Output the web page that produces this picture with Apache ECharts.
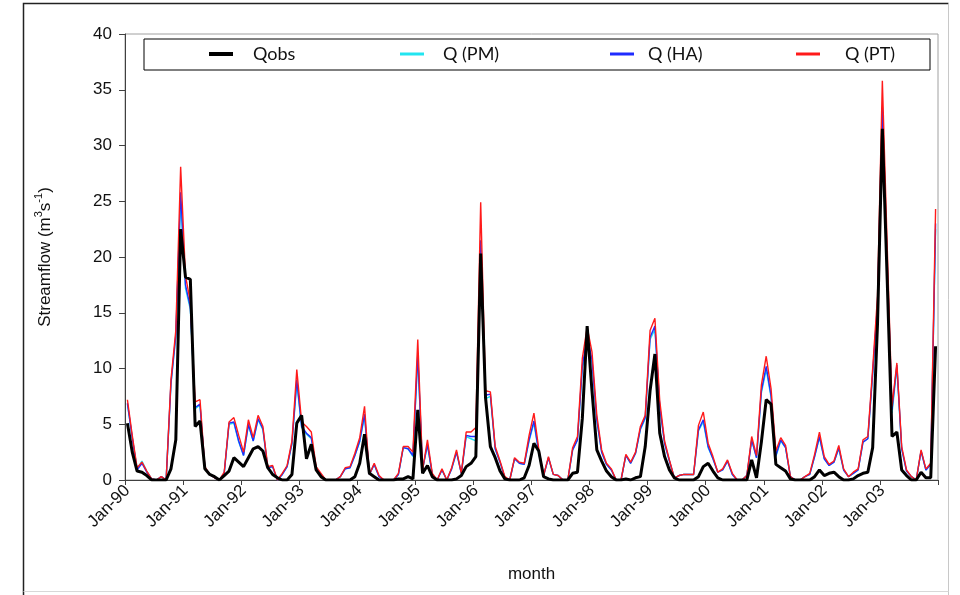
<!DOCTYPE html>
<html>
<head>
<meta charset="utf-8">
<script src="https://cdn.jsdelivr.net/npm/echarts@6/dist/echarts.min.js"></script>
<style>
  html, body { margin: 0; padding: 0; background: #ffffff; }
  #chart { width: 960px; height: 595px; }
</style>
</head>
<body>
<div id="chart"></div>
<script>
// Monthly streamflow, Jan-1990 .. Dec-2003 (m3/s)
const startYear = 1990;
const nYears = 14;
const monthNames = ['Jan','Feb','Mar','Apr','May','Jun','Jul','Aug','Sep','Oct','Nov','Dec'];

// observed flow
const qObs = [
  5.1, 2.5, 0.8, 0.7, 0.4, 0.0, 0.0, 0.0, 0.0, 1.0, 3.6, 22.5,   // 1990
  18.2, 18.0, 4.8, 5.3, 1.0, 0.5, 0.3, 0.0, 0.4, 0.8, 2.0, 1.6,  // 1991
  1.2, 2.0, 2.8, 3.0, 2.6, 1.1, 0.5, 0.2, 0.0, 0.0, 0.5, 5.1,    // 1992
  5.8, 1.9, 3.2, 0.9, 0.3, 0.0, 0.0, 0.0, 0.0, 0.0, 0.0, 0.3,    // 1993
  1.5, 4.1, 0.6, 0.3, 0.0, 0.0, 0.0, 0.0, 0.1, 0.1, 0.3, 0.1,    // 1994
  6.3, 0.6, 1.3, 0.3, 0.0, 0.0, 0.0, 0.0, 0.1, 0.4, 1.2, 1.5,    // 1995
  2.1, 20.3, 7.4, 3.0, 2.0, 0.8, 0.1, 0.0, 0.0, 0.0, 0.2, 1.3,   // 1996
  3.3, 2.6, 0.3, 0.1, 0.0, 0.0, 0.0, 0.0, 0.6, 0.7, 5.5, 13.8,   // 1997
  8.0, 2.7, 1.7, 0.8, 0.3, 0.0, 0.0, 0.1, 0.0, 0.2, 0.3, 3.0,    // 1998
  8.0, 11.3, 4.2, 2.1, 0.9, 0.2, 0.0, 0.0, 0.0, 0.0, 0.3, 1.2,   // 1999
  1.5, 0.8, 0.2, 0.0, 0.0, 0.0, 0.0, 0.0, 0.0, 1.8, 0.2, 3.4,    // 2000
  7.2, 6.8, 1.4, 1.1, 0.8, 0.1, 0.0, 0.0, 0.0, 0.0, 0.3, 0.9,    // 2001
  0.4, 0.6, 0.7, 0.3, 0.0, 0.0, 0.1, 0.4, 0.6, 0.7, 2.9, 14.0,   // 2002
  31.5, 18.0, 3.9, 4.3, 0.9, 0.4, 0.0, 0.0, 0.7, 0.2, 0.2, 12.0  // 2003
];

// simulated, Penman-Monteith PET
const qPM = [
  6.8, 3.8, 1.0, 1.7, 0.8, 0.1, 0.0, 0.3, 0.0, 8.6, 12.8, 25.0,
  17.2, 15.3, 6.4, 6.7, 1.1, 0.5, 0.2, 0.0, 0.6, 5.0, 5.1, 3.4,
  2.2, 4.9, 3.5, 5.4, 4.5, 1.1, 1.2, 0.0, 0.5, 1.2, 3.2, 8.7,
  4.7, 4.1, 3.7, 1.0, 0.5, 0.0, 0.0, 0.0, 0.3, 1.0, 1.1, 2.2,
  3.4, 5.7, 0.5, 1.4, 0.3, 0.0, 0.0, 0.0, 0.5, 2.9, 2.8, 2.1,
  11.0, 1.0, 3.1, 0.5, 0.0, 0.9, 0.0, 1.0, 2.5, 0.6, 3.9, 3.7,
  3.5, 20.8, 7.3, 7.5, 2.8, 1.6, 0.2, 0.0, 1.9, 1.5, 1.4, 3.5,
  5.1, 2.4, 0.4, 2.0, 0.5, 0.4, 0.0, 0.0, 2.7, 3.6, 10.0, 12.0,
  10.5, 5.3, 2.5, 1.4, 0.9, 0.0, 0.0, 2.2, 1.5, 2.4, 4.5, 5.5,
  12.6, 13.5, 6.5, 3.3, 1.7, 0.2, 0.4, 0.5, 0.5, 0.5, 4.4, 5.2,
  2.9, 1.9, 0.7, 0.9, 1.7, 0.5, 0.0, 0.0, 0.4, 3.6, 2.0, 7.8,
  9.9, 7.4, 2.1, 3.5, 2.9, 0.3, 0.0, 0.0, 0.3, 0.5, 2.1, 3.8,
  1.9, 1.3, 1.6, 2.8, 0.9, 0.3, 0.6, 0.9, 3.4, 3.7, 9.4, 15.5,
  32.5, 19.0, 6.0, 10.1, 2.8, 0.8, 0.3, 0.0, 2.6, 0.9, 1.4, 22.5
];

// simulated, Hargreaves PET
const qHA = [
  6.9, 3.8, 0.9, 1.5, 0.7, 0.1, 0.0, 0.3, 0.0, 8.7, 13.0, 25.8,
  17.5, 15.5, 6.5, 6.8, 1.1, 0.5, 0.2, 0.0, 0.6, 5.1, 5.2, 3.5,
  2.2, 5.0, 3.5, 5.5, 4.6, 1.1, 1.2, 0.0, 0.5, 1.2, 3.3, 9.0,
  4.8, 4.2, 3.8, 1.0, 0.5, 0.0, 0.0, 0.0, 0.3, 1.0, 1.1, 2.2,
  3.5, 5.9, 0.5, 1.4, 0.3, 0.0, 0.0, 0.0, 0.5, 2.9, 2.8, 2.2,
  11.3, 1.0, 3.2, 0.5, 0.0, 0.9, 0.0, 1.0, 2.5, 0.6, 4.0, 3.9,
  3.9, 21.5, 7.6, 7.7, 2.8, 1.6, 0.2, 0.0, 1.9, 1.5, 1.4, 3.6,
  5.3, 2.5, 0.4, 2.0, 0.5, 0.4, 0.0, 0.0, 2.7, 3.6, 10.2, 12.9,
  10.8, 5.4, 2.5, 1.4, 0.9, 0.0, 0.0, 2.2, 1.5, 2.4, 4.6, 5.6,
  12.8, 13.8, 6.6, 3.3, 1.7, 0.2, 0.4, 0.5, 0.5, 0.5, 4.5, 5.4,
  3.0, 1.9, 0.7, 0.9, 1.7, 0.5, 0.0, 0.0, 0.4, 3.6, 2.0, 8.0,
  10.2, 7.6, 2.2, 3.6, 2.9, 0.3, 0.0, 0.0, 0.3, 0.5, 2.1, 3.9,
  1.9, 1.3, 1.6, 2.9, 0.9, 0.3, 0.6, 0.9, 3.4, 3.7, 9.6, 15.8,
  33.5, 19.5, 6.3, 10.3, 2.8, 0.8, 0.3, 0.0, 2.6, 0.9, 1.4, 23.0
];

// simulated, Priestley-Taylor PET
const qPT = [
  7.2, 4.0, 1.1, 1.6, 0.8, 0.1, 0.0, 0.3, 0.0, 9.0, 13.4, 28.1,
  18.3, 16.0, 7.0, 7.2, 1.2, 0.5, 0.2, 0.0, 0.7, 5.2, 5.6, 4.0,
  2.5, 5.4, 3.8, 5.8, 4.8, 1.2, 1.3, 0.0, 0.6, 1.3, 3.5, 9.9,
  5.2, 4.8, 4.3, 1.2, 0.6, 0.0, 0.0, 0.0, 0.3, 1.1, 1.2, 2.4,
  3.8, 6.6, 0.5, 1.5, 0.4, 0.0, 0.0, 0.0, 0.6, 3.0, 3.0, 2.5,
  12.6, 0.9, 3.6, 0.6, 0.0, 1.0, 0.0, 1.1, 2.7, 0.6, 4.3, 4.3,
  4.7, 24.9, 8.0, 7.9, 3.0, 1.7, 0.3, 0.0, 2.0, 1.6, 1.5, 4.0,
  6.0, 2.8, 0.4, 2.1, 0.5, 0.4, 0.0, 0.0, 2.9, 3.9, 10.9, 13.7,
  11.5, 5.8, 2.7, 1.5, 1.0, 0.0, 0.0, 2.3, 1.6, 2.5, 4.8, 5.8,
  13.4, 14.5, 7.1, 3.5, 1.8, 0.2, 0.4, 0.5, 0.5, 0.5, 4.9, 6.1,
  3.3, 2.1, 0.7, 1.0, 1.8, 0.6, 0.0, 0.0, 0.4, 3.9, 2.2, 8.5,
  11.1, 8.2, 2.6, 3.8, 3.1, 0.3, 0.0, 0.0, 0.3, 0.6, 2.3, 4.3,
  2.1, 1.4, 1.7, 3.1, 1.0, 0.3, 0.7, 1.0, 3.6, 3.9, 10.0, 16.5,
  35.8, 21.0, 6.6, 10.5, 3.0, 0.9, 0.3, 0.0, 2.7, 1.0, 1.5, 24.3
];

const seriesNames = ['Qobs', 'Q (PM)', 'Q (HA)', 'Q (PT)'];
const seriesColors = ['#000000', '#22e5f0', '#1f2bff', '#ff1a1a'];

// month categories "Jan-90" ... "Dec-03"
const months = [];
for (let y = 0; y < nYears; y++) {
  const yy = String((startYear + y) % 100).padStart(2, '0');
  for (let m = 0; m < 12; m++) months.push(monthNames[m] + '-' + yy);
}

const chart = echarts.init(document.getElementById('chart'), null, { renderer: 'canvas' });

const axisFont = 'Liberation Sans, Arial, sans-serif';
const legendFont = 'Lato, sans-serif';

function lineSeries(name, data, color, width, z) {
  return {
    name: name, type: 'line', data: data, symbol: 'none', z: z,
    lineStyle: { color: color, width: width }, itemStyle: { color: color },
    animation: false
  };
}

// one legend entry per component so each sits at its own spot in the box
function legendItem(name, left, iconH, textGap) {
  return {
    data: [name], left: left, top: 45, orient: 'horizontal', padding: 0,
    icon: 'rect', itemWidth: 24, itemHeight: iconH,
    textStyle: { fontFamily: legendFont, fontSize: 18, color: '#111', padding: [0, 0, 0, textGap] },
    selectedMode: false
  };
}

chart.setOption({
  backgroundColor: '#ffffff',
  animation: false,
  grid: { left: 125, right: 22, top: 34, bottom: 115, show: true, borderColor: '#a0a0a0', borderWidth: 1 },
  legend: [
    legendItem(seriesNames[0], 209, 4, 15),
    legendItem(seriesNames[1], 400, 3, 14),
    legendItem(seriesNames[2], 610, 3, 9),
    legendItem(seriesNames[3], 796, 3, 20)
  ],
  xAxis: {
    type: 'category', data: months, boundaryGap: true,
    axisLine: { show: true, lineStyle: { color: '#404040', width: 1 } },
    axisTick: { show: true, length: 5, interval: function (i) { return i % 12 === 0; }, lineStyle: { color: '#404040' } },
    axisLabel: { interval: 11, rotate: 45, fontFamily: axisFont, fontSize: 17, color: '#111', margin: 8 },
    splitLine: { show: false },
    name: 'month', nameLocation: 'middle', nameGap: 86,
    nameTextStyle: { fontFamily: axisFont, fontSize: 17, color: '#111' }
  },
  yAxis: {
    type: 'value', min: 0, max: 40, interval: 5,
    axisLine: { show: true, lineStyle: { color: '#404040', width: 1 } },
    axisTick: { show: true, length: 6, lineStyle: { color: '#404040' } },
    axisLabel: { fontFamily: axisFont, fontSize: 17, color: '#111', margin: 13 },
    splitLine: { show: false },
    name: 'Streamflow (m{sup|3}s{sup|-1})', nameLocation: 'middle', nameGap: 68, nameRotate: 90,
    nameTextStyle: {
      fontFamily: axisFont, fontSize: 17, color: '#111',
      rich: { sup: { fontFamily: axisFont, fontSize: 11, color: '#111', verticalAlign: 'top', lineHeight: 24 } }
    }
  },
  graphic: [
    { type: 'rect', shape: { x: 144, y: 39, width: 786, height: 31 }, style: { fill: 'none', stroke: '#000', lineWidth: 1 }, z: 10, silent: true },
    { type: 'polyline', shape: { points: [[23.5, 600], [23.5, 3.5], [948.5, 3.5]] }, style: { fill: 'none', stroke: '#222', lineWidth: 1.5 }, silent: true },
    { type: 'line', shape: { x1: 948.5, y1: 3.5, x2: 948.5, y2: 595 }, style: { stroke: '#c8c8c8', lineWidth: 1 }, silent: true },
    { type: 'line', shape: { x1: 23.5, y1: 591.5, x2: 948.5, y2: 591.5 }, style: { stroke: '#d8d8d8', lineWidth: 1 }, silent: true }
  ],
  series: [
    lineSeries(seriesNames[0], qObs, seriesColors[0], 3, 6),
    lineSeries(seriesNames[1], qPM, seriesColors[1], 1.4, 3),
    lineSeries(seriesNames[2], qHA, seriesColors[2], 1.4, 4),
    lineSeries(seriesNames[3], qPT, seriesColors[3], 1.4, 5)
  ]
});
</script>
</body>
</html>
